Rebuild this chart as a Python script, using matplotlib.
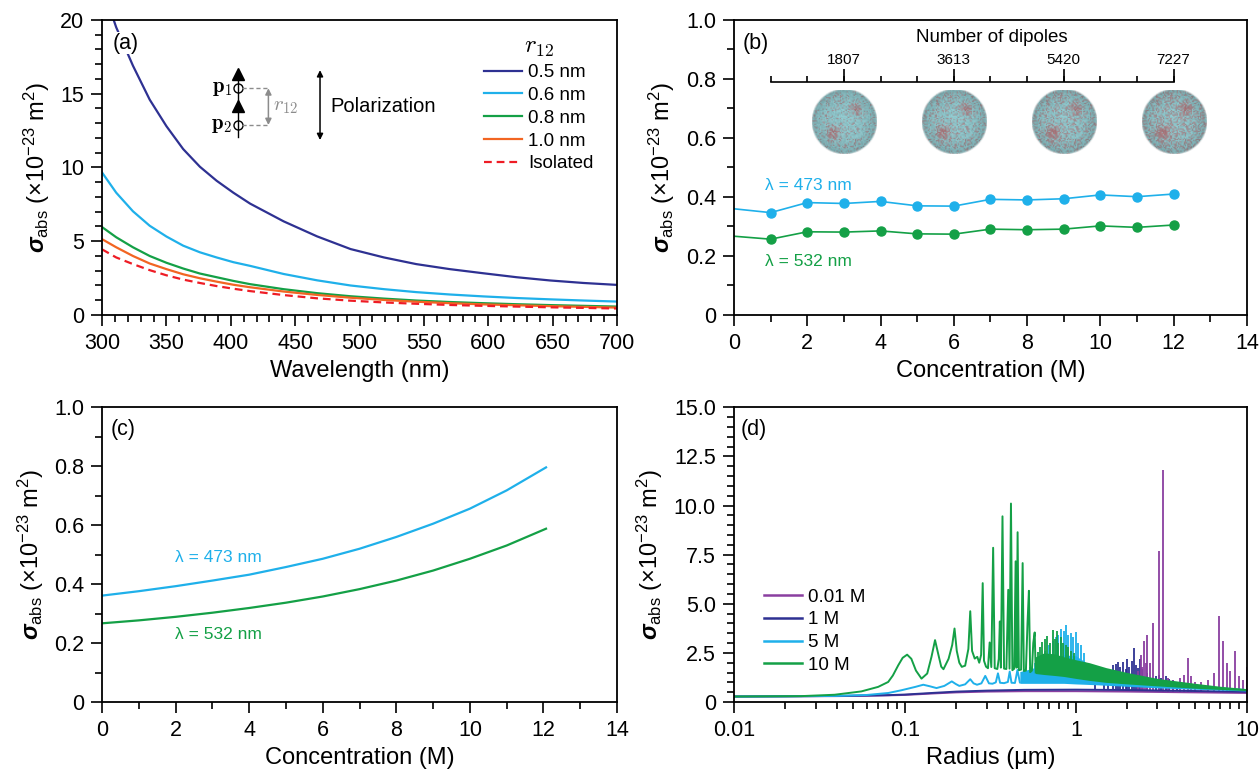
import numpy as np
import matplotlib
matplotlib.use('Agg')
import matplotlib.pyplot as plt
from matplotlib.ticker import MultipleLocator, FixedLocator, FuncFormatter, LogLocator, NullFormatter
from matplotlib.lines import Line2D

plt.rcParams['font.family'] = ['Liberation Sans', 'DejaVu Sans']
plt.rcParams['mathtext.fontset'] = 'custom'
plt.rcParams['mathtext.rm'] = 'Liberation Sans'
plt.rcParams['mathtext.it'] = 'Liberation Sans:italic:bold'
plt.rcParams['mathtext.bf'] = 'Liberation Sans:bold'

# ---------------- colours ----------------
NAVY = '#2e3192'
LBLUE = '#1fb0ea'
GREEN = '#14a046'
ORANGE = '#f26522'
RED = '#ee1c25'
PURPLE = '#8a3fa0'

# ---------------- (a) data ----------------
wl = [300, 311, 324, 337, 350, 363, 376, 389, 402, 415, 441, 467, 493, 519, 544, 570, 596, 622, 648, 674, 700]
sig_05 = [22.3, 19.5, 16.9, 14.6, 12.8, 11.25, 10.05, 9.1, 8.29, 7.55, 6.35, 5.33, 4.47, 3.90, 3.45, 3.11, 2.83, 2.56, 2.34, 2.17, 2.04]
sig_06 = [9.66, 8.29, 7.03, 6.05, 5.32, 4.70, 4.25, 3.90, 3.58, 3.33, 2.78, 2.35, 2.00, 1.75, 1.55, 1.39, 1.26, 1.15, 1.06, 0.98, 0.91]
sig_08 = [5.96, 5.27, 4.59, 4.00, 3.54, 3.15, 2.81, 2.56, 2.31, 2.09, 1.75, 1.48, 1.27, 1.11, 0.98, 0.88, 0.80, 0.73, 0.67, 0.62, 0.57]
sig_10 = [5.14, 4.59, 4.00, 3.49, 3.11, 2.76, 2.49, 2.26, 2.05, 1.88, 1.59, 1.36, 1.17, 1.02, 0.90, 0.80, 0.72, 0.66, 0.60, 0.55, 0.50]
sig_iso = [4.45, 3.90, 3.45, 3.04, 2.69, 2.40, 2.17, 1.96, 1.78, 1.62, 1.35, 1.13, 0.97, 0.85, 0.76, 0.68, 0.62, 0.57, 0.52, 0.48, 0.44]
labels_a = ['0.5 nm', '0.6 nm', '0.8 nm', '1.0 nm', 'Isolated']

# ---------------- (b) data ----------------
conc_b = [0, 1, 2, 3, 4, 5, 6, 7, 8, 9, 10, 11, 12]
b473 = [0.360, 0.347, 0.381, 0.378, 0.385, 0.370, 0.369, 0.392, 0.390, 0.394, 0.407, 0.401, 0.410]
b532 = [0.267, 0.257, 0.282, 0.281, 0.285, 0.275, 0.274, 0.291, 0.289, 0.291, 0.302, 0.297, 0.305]
dip_ticks = [1, 2, 3, 4, 5, 6, 7, 8, 9, 10, 11, 12]
dip_major = [3, 6, 9, 12]
dip_labels = ['1807', '3613', '5420', '7227']
sphere_red = [0.16, 0.24, 0.32, 0.40]

# ---------------- (c) data ----------------
conc_c = [0, 1, 2, 3, 4, 5, 6, 7, 8, 9, 10, 11, 12.07]
c473 = [0.361, 0.376, 0.393, 0.412, 0.432, 0.458, 0.486, 0.520, 0.560, 0.605, 0.656, 0.718, 0.796]
c532 = [0.267, 0.277, 0.289, 0.303, 0.319, 0.337, 0.358, 0.383, 0.412, 0.446, 0.486, 0.531, 0.588]

# ---------------- (d) data ----------------
d_r_base = [0.01, 0.02, 0.04, 0.06, 0.08, 0.1, 0.15, 0.2, 0.3, 0.5, 1.0, 2.0, 5.0, 10.0]
d_001_base = [0.28, 0.29, 0.30, 0.32, 0.34, 0.36, 0.44, 0.49, 0.53, 0.55, 0.55, 0.53, 0.49, 0.46]
d_1_base = [0.28, 0.29, 0.31, 0.33, 0.35, 0.38, 0.47, 0.53, 0.58, 0.62, 0.63, 0.61, 0.56, 0.52]
d_5_r = [0.01, 0.02, 0.04, 0.06, 0.08, 0.0955, 0.115, 0.128, 0.14, 0.153, 0.17, 0.188, 0.198, 0.208,
         0.225, 0.241, 0.252, 0.264, 0.28, 0.295, 0.31, 0.325, 0.34, 0.35, 0.36, 0.38, 0.40, 0.41,
         0.42, 0.44, 0.455, 0.47]
d_5_y = [0.28, 0.29, 0.31, 0.36, 0.46, 0.60, 0.77, 0.88, 0.80, 0.71, 0.82, 1.05, 0.92, 0.82,
         0.90, 1.16, 0.95, 0.88, 0.95, 1.33, 0.95, 0.93, 1.00, 1.46, 0.98, 0.96, 1.02, 1.55,
         0.98, 0.97, 1.63, 1.0]
d_5_band_r = [0.47, 0.55, 0.65, 0.75, 0.85, 1.0, 1.15, 1.3, 1.6, 2.0, 3.0, 5.0, 10.0]
d_5_band_lo = [0.95, 0.95, 0.95, 0.95, 0.95, 0.92, 0.90, 0.88, 0.84, 0.80, 0.72, 0.65, 0.56]
d_5_band_hi = [1.55, 1.70, 1.95, 2.20, 2.40, 2.35, 2.00, 1.75, 1.50, 1.25, 1.00, 0.85, 0.68]
d_5_spk_r = [0.50, 0.54, 0.58, 0.62, 0.66, 0.70, 0.73, 0.76, 0.79, 0.82, 0.85, 0.873, 0.90, 0.93,
             0.96, 1.0, 1.03, 1.07, 1.12]
d_5_spk_y = [1.7, 1.8, 2.0, 2.2, 2.6, 2.9, 3.1, 3.3, 3.4, 3.7, 3.6, 3.9, 3.4, 3.5, 3.3, 3.55, 3.0, 2.9, 2.5]
d_10_r = [0.01, 0.0247, 0.0388, 0.0556, 0.0697, 0.0798, 0.085, 0.0914, 0.097, 0.103, 0.109, 0.116,
          0.125, 0.135, 0.143, 0.150, 0.157, 0.163, 0.168, 0.180, 0.189, 0.195, 0.201, 0.208,
          0.215, 0.225, 0.235, 0.241, 0.247, 0.256, 0.265, 0.272, 0.279, 0.285, 0.290, 0.298,
          0.306, 0.313, 0.320, 0.328, 0.335, 0.347, 0.354, 0.359, 0.364, 0.372, 0.380, 0.392,
          0.402, 0.409, 0.417, 0.425, 0.436, 0.444, 0.450, 0.456, 0.464, 0.478, 0.488, 0.496,
          0.510, 0.521, 0.531, 0.540, 0.553, 0.563, 0.574, 0.582]
d_10_y = [0.28, 0.30, 0.37, 0.54, 0.77, 1.02, 1.35, 1.87, 2.25, 2.41, 2.20, 1.60,
          1.19, 1.45, 2.30, 3.15, 2.40, 1.80, 1.67, 2.20, 2.90, 3.74, 2.60, 2.00,
          1.79, 1.85, 2.70, 4.62, 2.60, 2.21, 2.30, 2.00, 2.40, 6.05, 2.10, 1.80,
          1.72, 3.03, 1.78, 7.85, 1.72, 1.68, 2.20, 4.10, 1.75, 9.45, 1.70, 1.68,
          5.71, 1.70, 10.10, 1.62, 1.70, 7.16, 1.75, 8.64, 1.62, 1.65, 7.07, 1.58,
          1.60, 4.00, 5.66, 1.52, 1.60, 3.00, 3.54, 1.50]
d_10_band_r = [0.58, 0.65, 0.75, 0.85, 1.0, 1.2, 1.5, 2.0, 3.0, 5.0, 7.0, 10.0]
d_10_band_lo = [1.45, 1.40, 1.35, 1.30, 1.20, 1.10, 1.00, 0.92, 0.82, 0.70, 0.64, 0.58]
d_10_band_hi = [2.30, 2.50, 2.45, 2.30, 2.15, 2.00, 1.75, 1.50, 1.20, 0.95, 0.80, 0.68]
d_10_spk_r = [0.60, 0.62, 0.637, 0.66, 0.682, 0.705, 0.730, 0.75, 0.77, 0.79, 0.817, 0.84, 0.87, 0.90, 0.94, 0.98]
d_10_spk_y = [2.57, 2.80, 3.03, 3.20, 3.37, 3.00, 3.64, 3.20, 3.60, 3.00, 3.33, 3.00, 2.90, 2.80, 2.60, 2.50]
d_1_spk_r = [1.30, 1.45, 1.55, 1.65, 1.72, 1.76, 1.82, 1.88, 1.95, 1.99, 2.05, 2.12, 2.18, 2.25,
             2.31, 2.36, 2.45, 2.60, 2.95, 3.05, 3.15, 3.35, 3.50, 3.70, 3.90]
d_1_spk_y = [1.55, 1.60, 1.70, 1.90, 1.95, 2.06, 1.80, 2.06, 1.70, 2.17, 1.80, 2.10, 2.74, 1.90,
             1.75, 2.17, 1.70, 1.50, 1.30, 1.35, 1.20, 1.30, 1.15, 1.10, 1.00]
d_001_spk_r = [2.30, 2.40, 2.45, 2.50, 2.56, 2.62, 2.70, 2.84, 3.08, 3.24, 3.45, 3.70, 4.05, 4.30,
               4.55, 4.70, 5.00, 5.40, 5.90, 6.40, 6.85, 7.25, 7.60, 8.00, 8.50, 9.00, 9.50, 9.95]
d_001_spk_y = [1.60, 2.40, 1.80, 3.10, 2.00, 3.40, 2.00, 4.00, 7.70, 11.80, 1.20, 1.10, 1.20, 1.40,
               2.25, 1.30, 1.00, 1.00, 1.10, 1.50, 4.40, 3.10, 2.00, 1.60, 2.60, 1.30, 1.10, 1.80]
labels_d = ['0.01 M', '1 M', '5 M', '10 M']

YLAB = r'$\sigma_{\mathrm{abs}}$ (×10$^{\mathrm{-23}}$ m$^{\mathrm{2}}$)'

# ---------------- figure ----------------
fig = plt.figure(figsize=(12.6, 7.69), dpi=100)
axA = fig.add_axes([0.0810, 0.5904, 0.4087, 0.3836])
axB = fig.add_axes([0.5825, 0.5904, 0.4071, 0.3836])
axC = fig.add_axes([0.0810, 0.0871, 0.4087, 0.3833])
axD = fig.add_axes([0.5825, 0.0871, 0.4071, 0.3833])


def style(ax):
    for s in ax.spines.values():
        s.set_linewidth(1.3)
    ax.tick_params(which='both', direction='out', width=1.2, labelsize=15.5,
                   top=False, right=False, pad=5)
    ax.tick_params(which='major', length=8)
    ax.tick_params(which='minor', length=5)
    ax.set_ylabel(YLAB, fontsize=17, labelpad=6)


fmt1 = FuncFormatter(lambda v, p: '0' if abs(v) < 1e-9 else f'{v:.1f}')
WBOX = dict(facecolor='white', edgecolor='none', pad=0.5)

# ---------- (a) ----------
ax = axA
style(ax)
for ys, c, lab in zip([sig_05, sig_06, sig_08, sig_10], [NAVY, LBLUE, GREEN, ORANGE], labels_a[:4]):
    ax.plot(wl, ys, color=c, lw=1.6, label=lab)
ax.plot(wl, sig_iso, color=RED, lw=1.6, ls=(0, (3.5, 2.2)), label=labels_a[4])
ax.set_xlim(300, 700)
ax.set_ylim(0, 20)
ax.xaxis.set_major_locator(MultipleLocator(50))
ax.xaxis.set_minor_locator(MultipleLocator(10))
ax.yaxis.set_major_locator(MultipleLocator(5))
ax.yaxis.set_minor_locator(MultipleLocator(1))
ax.set_xlabel('Wavelength (nm)', fontsize=17, labelpad=4)
ax.text(0.02, 0.921, '(a)', transform=ax.transAxes, fontsize=15.5, va='center', ha='left',
        bbox=WBOX, zorder=5)
leg = ax.legend(loc='upper left', bbox_to_anchor=(0.742, 0.955), frameon=False, fontsize=13.5,
                handlelength=2.0, handletextpad=0.35, labelspacing=0.30, borderpad=0,
                borderaxespad=0, title=r'$r_{12}$', title_fontsize=18)
leg.get_title().set_math_fontfamily('cm')
# dipole sketch
xd = 405.9
ax.plot([xd, xd], [12.09, 16.2], color='k', lw=1.0)
ax.plot([xd, xd], [16.34, 14.14], ls='none', marker='^', ms=8, color='k')
ax.plot([xd, xd], [15.37, 12.88], ls='none', marker='o', ms=6.5, mfc='none', mec='k', mew=1.0)
for yy, lab in [(15.37, r'$\mathbf{p_1}$'), (12.88, r'$\mathbf{p_2}$')]:
    ax.text(xd - 4.5, yy, lab, fontsize=15, ha='right', va='center', math_fontfamily='cm')
    ax.plot([xd + 3, 429.2], [yy, yy], color='#8c8c8c', lw=1.0, ls=(0, (3, 2)))
ax.annotate('', xy=(429.2, 12.88), xytext=(429.2, 15.37),
            arrowprops=dict(arrowstyle='<|-|>', color='#8c8c8c', lw=1.1, mutation_scale=9,
                            shrinkA=0, shrinkB=0))
ax.text(432.5, 14.12, r'$r_{12}$', color='#8c8c8c', fontsize=15, ha='left', va='center',
        math_fontfamily='cm')
ax.annotate('', xy=(469.3, 11.86), xytext=(469.3, 16.6),
            arrowprops=dict(arrowstyle='<|-|>', color='k', lw=1.1, mutation_scale=9,
                            shrinkA=0, shrinkB=0))
ax.text(477.0, 14.12, 'Polarization', fontsize=14.5, ha='left', va='center')

# ---------- (b) ----------
ax = axB
style(ax)
ax.plot(conc_b, b473, color=LBLUE, lw=1.2, marker='o', ms=6.5, markevery=slice(1, None))
ax.plot(conc_b, b532, color=GREEN, lw=1.2, marker='o', ms=6.5, markevery=slice(1, None))
ax.set_xlim(0, 14)
ax.set_ylim(0, 1.0)
ax.xaxis.set_major_locator(MultipleLocator(2))
ax.xaxis.set_minor_locator(MultipleLocator(1))
ax.yaxis.set_major_locator(MultipleLocator(0.2))
ax.yaxis.set_minor_locator(MultipleLocator(0.1))
ax.yaxis.set_major_formatter(fmt1)
ax.set_xlabel('Concentration (M)', fontsize=17, labelpad=4)
ax.text(0.016, 0.921, '(b)', transform=ax.transAxes, fontsize=15.5, va='center', ha='left')
ax.text(0.86, 0.44, 'λ = 473 nm', color=LBLUE, fontsize=12.5, va='center', ha='left')
ax.text(0.86, 0.18, 'λ = 532 nm', color=GREEN, fontsize=12.5, va='center', ha='left')
ly = 0.789
ax.plot([dip_ticks[0], dip_ticks[-1]], [ly, ly], color='k', lw=1.2)
ax.vlines(dip_ticks, ly, ly + 0.021, color='k', lw=1.2)
ax.vlines(dip_major, ly, ly + 0.045, color='k', lw=1.2)
for xv, lab in zip(dip_major, dip_labels):
    ax.text(xv, ly + 0.052, lab, fontsize=11, ha='center', va='bottom')
ax.text(7.05, 0.941, 'Number of dipoles', fontsize=13.5, ha='center', va='center')


def sphere_rgba(n, red_frac):
    ii, jj = np.mgrid[0:n, 0:n]
    x = (jj + 0.5) / n * 2 - 1
    y = 1 - (ii + 0.5) / n * 2
    rr = np.sqrt(x ** 2 + y ** 2)
    h = np.sin(ii * 12.9898 + jj * 78.233) * 43758.5453
    h = h - np.floor(h)
    g = np.sin(ii * 39.3468 + jj * 11.135) * 24634.6345
    g = g - np.floor(g)
    spots = (np.exp(-((x - 0.36) ** 2 + (y - 0.38) ** 2) / 0.03)
             + np.exp(-((x + 0.34) ** 2 + (y + 0.34) ** 2) / 0.045))
    p = red_frac + 0.55 * spots
    speck = (h < p).astype(float)
    base = np.array([0.58, 0.80, 0.82])
    redc = np.array([0.72, 0.44, 0.46])
    m = 0.55 * speck + 0.30 * np.clip(spots, 0, 1)
    rgb = base * (1 - m[..., None]) + redc * m[..., None]
    rgb = rgb * (0.90 + 0.12 * g)[..., None]
    shade = 0.80 + 0.20 * np.sqrt(np.clip(1 - rr ** 2, 0, 1))
    rgb = np.clip(rgb * shade[..., None], 0, 1)
    alpha = np.clip((1.0 - rr) * n / 3 + 0.4, 0, 1)
    return np.dstack([rgb, alpha])


sw, sh, sy = 1.75, 0.217, 0.653
for xv, rf in zip(dip_major, sphere_red):
    ins = ax.inset_axes([xv - sw / 2, sy - sh / 2, sw, sh], transform=ax.transData)
    ins.imshow(sphere_rgba(56, rf), aspect='auto', interpolation='bilinear')
    ins.axis('off')

# ---------- (c) ----------
ax = axC
style(ax)
ax.plot(conc_c, c473, color=LBLUE, lw=1.6)
ax.plot(conc_c, c532, color=GREEN, lw=1.6)
ax.set_xlim(0, 14)
ax.set_ylim(0, 1.0)
ax.xaxis.set_major_locator(MultipleLocator(2))
ax.xaxis.set_minor_locator(MultipleLocator(1))
ax.yaxis.set_major_locator(MultipleLocator(0.2))
ax.yaxis.set_minor_locator(MultipleLocator(0.1))
ax.yaxis.set_major_formatter(fmt1)
ax.set_xlabel('Concentration (M)', fontsize=17, labelpad=4)
ax.text(0.017, 0.925, '(c)', transform=ax.transAxes, fontsize=15.5, va='center', ha='left')
ax.text(1.97, 0.49, 'λ = 473 nm', color=LBLUE, fontsize=12.5, va='center', ha='left')
ax.text(1.97, 0.228, 'λ = 532 nm', color=GREEN, fontsize=12.5, va='center', ha='left')

# ---------- (d) ----------
ax = axD
style(ax)
ax.set_xscale('log')
lw_d = 1.4
ax.plot(d_r_base, d_001_base, color=PURPLE, lw=lw_d, zorder=2.0)
ax.plot(d_r_base, d_1_base, color=NAVY, lw=lw_d, zorder=2.05)
ax.vlines(d_001_spk_r, [d_001_base[-1] + 0.05] * len(d_001_spk_r), d_001_spk_y, color=PURPLE, lw=1.3, zorder=2.0)
ax.vlines(d_1_spk_r, [d_1_base[-3] + 0.02] * len(d_1_spk_r), d_1_spk_y, color=NAVY, lw=1.3, zorder=1.9)
ax.fill_between(d_5_band_r, d_5_band_lo, d_5_band_hi, color=LBLUE, lw=0, zorder=2.1)
ax.vlines(d_5_spk_r, d_5_band_lo[0], d_5_spk_y, color=LBLUE, lw=1.3, zorder=2.1)
ax.plot(d_5_r, d_5_y, color=LBLUE, lw=lw_d, zorder=2.15)
ax.fill_between(d_10_band_r, d_10_band_lo, d_10_band_hi, color=GREEN, lw=0, zorder=2.2)
ax.vlines(d_10_spk_r, d_10_band_lo[0], d_10_spk_y, color=GREEN, lw=1.3, zorder=2.2)
ax.plot(d_10_r, d_10_y, color=GREEN, lw=lw_d, zorder=2.25)
ax.set_xlim(0.01, 10)
ax.set_ylim(0, 15)
ax.xaxis.set_major_locator(FixedLocator([0.01, 0.1, 1, 10]))
ax.xaxis.set_major_formatter(FuncFormatter(lambda v, p: f'{v:g}'))
ax.xaxis.set_minor_locator(LogLocator(base=10, subs=range(2, 10), numticks=20))
ax.xaxis.set_minor_formatter(NullFormatter())
ax.yaxis.set_major_locator(MultipleLocator(2.5))
ax.yaxis.set_minor_locator(MultipleLocator(0.5))
ax.yaxis.set_major_formatter(fmt1)
ax.set_xlabel('Radius (µm)', fontsize=17, labelpad=4)
ax.text(0.013, 0.925, '(d)', transform=ax.transAxes, fontsize=15.5, va='center', ha='left')
handles = [Line2D([], [], color=c, lw=1.8) for c in [PURPLE, NAVY, LBLUE, GREEN]]
ax.legend(handles, labels_d, loc='upper left', bbox_to_anchor=(0.059, 0.385), frameon=False,
          fontsize=13.5, handlelength=2.0, handletextpad=0.35, labelspacing=0.30, borderpad=0,
          borderaxespad=0)

fig.savefig('out.png', dpi=100)
